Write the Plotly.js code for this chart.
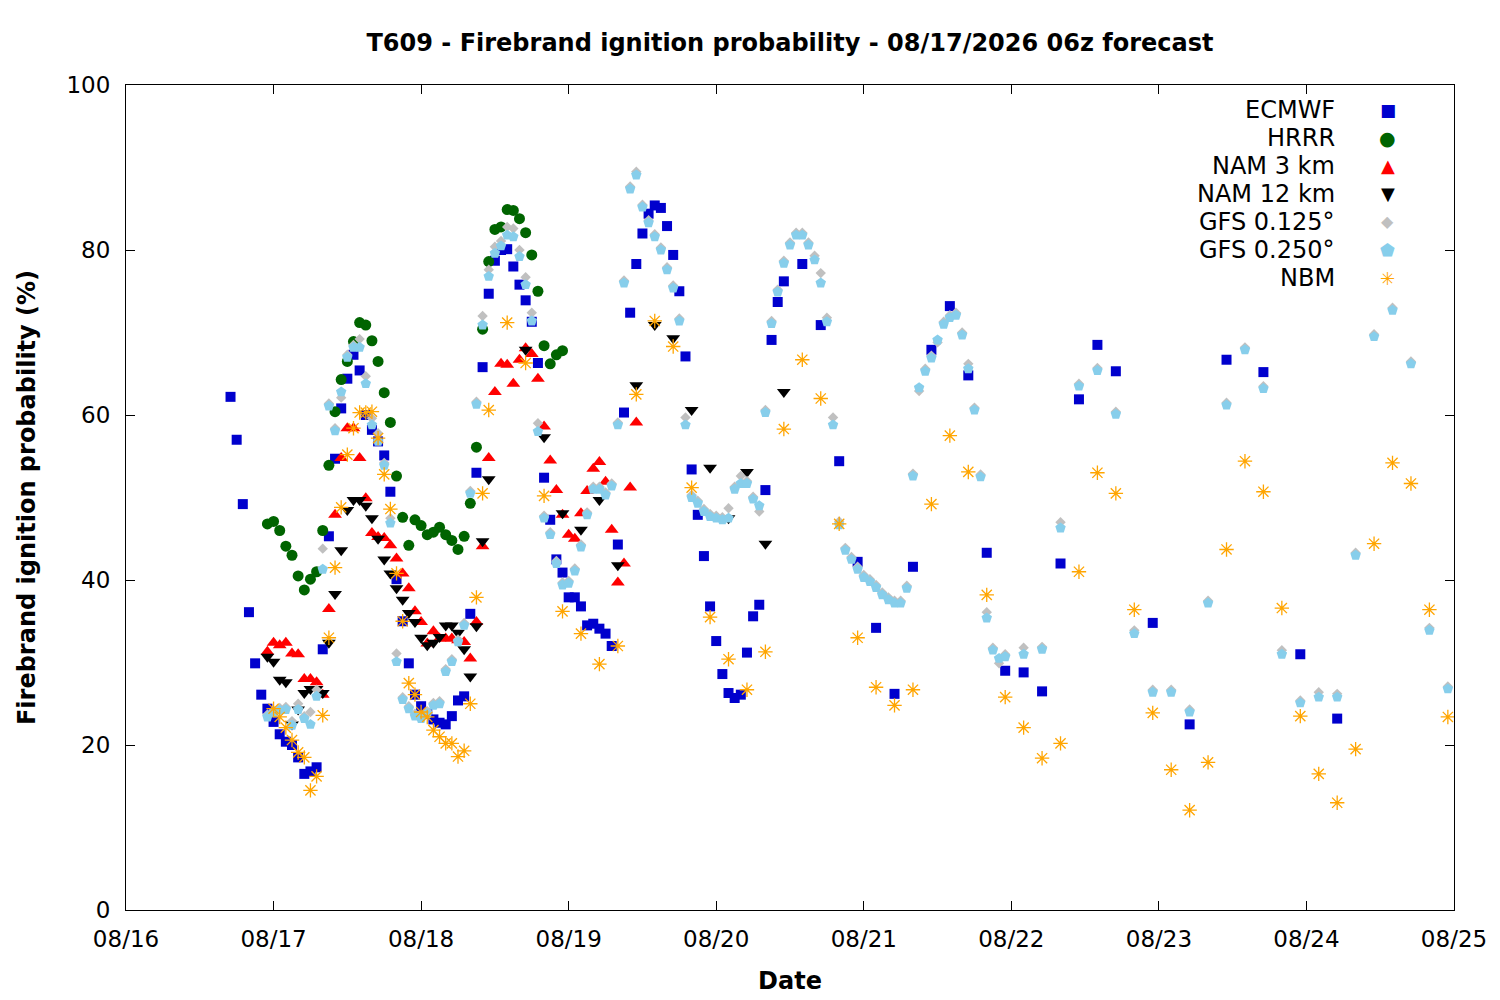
<!DOCTYPE html>
<html>
<head>
<meta charset="utf-8">
<title>T609 - Firebrand ignition probability</title>
<script src="https://cdn.plot.ly/plotly-3.0.1.min.js"></script>
<style>
    html, body { margin: 0; padding: 0; background: #ffffff; }
    #chart { width: 1500px; height: 1000px; }
</style>
</head>
<body>
<div id="chart"></div>
<script>
// Forecast hours are counted from 08/16 00:00
const baseDate = Date.UTC(2026, 7, 16, 0, 0);

const seriesNames = ['ECMWF', 'HRRR', 'NAM 3 km', 'NAM 12 km', 'GFS 0.125°', 'GFS 0.250°', 'NBM'];

const ecmwfHours = [17, 18, 19, 20, 21, 22, 23, 24, 25, 26, 27, 28, 29, 30, 31, 32, 33, 34, 35, 36,
    37, 38, 39, 40, 41, 42, 43, 44, 45, 46, 47, 48, 49, 50, 51, 52, 53, 54, 55, 56,
    57, 58, 59, 60, 61, 62, 63, 64, 65, 66, 67, 68, 69, 70, 71, 72, 73, 74, 75, 76,
    77, 78, 79, 80, 81, 82, 83, 84, 85, 86, 87, 88, 89, 90, 91, 92, 93, 94, 95, 96,
    97, 98, 99, 100, 101, 102, 103, 104, 105, 106, 107, 110, 113, 116, 119, 122, 125, 128, 131, 134,
    137, 140, 143, 146, 149, 152, 155, 158, 161, 167, 173, 179, 185, 191, 197];
const ecmwfValues = [62.2, 57.0, 49.2, 36.1, 29.9, 26.1, 24.4, 22.8, 21.3, 20.4, 20.0, 18.5, 16.5, 16.8, 17.3, 31.6, 45.3, 54.7, 60.8, 64.4,
    67.3, 65.4, 60.0, 58.2, 56.8, 55.1, 50.7, 40.1, 35.0, 29.9, 26.1, 24.7, 23.8, 23.1, 22.7, 22.5, 23.5, 25.4, 25.9, 35.9,
    53.0, 65.8, 74.7, 78.7, 80.0, 80.1, 78.0, 75.8, 73.9, 71.3, 66.3, 52.4, 47.3, 42.5, 40.9, 37.9, 37.9, 36.8, 34.5, 34.7,
    34.1, 33.5, 32.0, 44.3, 60.3, 72.4, 78.3, 82.0, 84.4, 85.4, 85.1, 82.9, 79.4, 75.0, 67.1, 53.4, 47.9, 42.9, 36.8, 32.6,
    28.6, 26.3, 25.7, 26.1, 31.2, 35.6, 37.0, 50.9, 69.1, 73.7, 76.2, 78.3, 70.9, 54.4, 42.2, 34.2, 26.2, 41.6, 67.9, 73.2,
    64.8, 43.3, 29.0, 28.8, 26.5, 42.0, 61.9, 68.5, 65.3, 34.8, 22.5, 66.7, 65.2, 31.0, 23.2];

const hrrrHours = [23, 24, 25, 26, 27, 28, 29, 30, 31, 32, 33, 34, 35, 36, 37, 38, 39, 40, 41, 42,
    43, 44, 45, 46, 47, 48, 49, 50, 51, 52, 53, 54, 55, 56, 57, 58, 59, 60, 61, 62,
    63, 64, 65, 66, 67, 68, 69, 70, 71];
const hrrrValues = [46.8, 47.1, 46.0, 44.1, 43.0, 40.5, 38.8, 40.1, 41.0, 46.0, 53.9, 60.4, 64.3, 66.5, 68.9, 71.2, 70.9, 69.0, 66.5, 62.7,
    59.1, 52.6, 47.6, 44.2, 47.3, 46.6, 45.5, 45.8, 46.4, 45.5, 44.8, 43.7, 45.3, 49.3, 56.1, 70.4, 78.6, 82.5, 82.8, 84.9,
    84.8, 83.8, 82.1, 79.4, 75.0, 68.4, 66.2, 67.3, 67.8];

const nam3Hours = [23, 24, 25, 26, 27, 28, 29, 30, 31, 32, 33, 34, 35, 36, 37, 38, 39, 40, 41, 42,
    43, 44, 45, 46, 47, 48, 49, 50, 51, 52, 53, 54, 55, 56, 57, 58, 59, 60, 61, 62,
    63, 64, 65, 66, 67, 68, 69, 70, 71, 72, 73, 74, 75, 76, 77, 78, 79, 80, 81, 82, 83];
const nam3Values = [31.3, 32.4, 32.1, 32.4, 31.1, 31.0, 28.0, 28.0, 27.6, 26.1, 36.5, 47.9, 54.8, 58.4, 58.4, 54.8, 49.9, 45.7, 45.2, 45.1,
    44.2, 42.6, 40.8, 39.0, 36.2, 34.9, 32.3, 33.8, 32.9, 32.9, 32.9, 32.7, 32.5, 30.5, 34.9, 44.1, 54.8, 62.8, 66.2, 66.1,
    63.8, 66.7, 68.1, 67.4, 64.4, 58.6, 54.5, 50.9, 47.9, 45.5, 45.0, 48.1, 50.8, 53.5, 54.3, 51.9, 46.1, 39.7, 42.0, 51.2, 59.1];

const nam12Hours = [23, 24, 25, 26, 27, 28, 29, 30, 31, 32, 33, 34, 35, 36, 37, 38, 39, 40, 41, 42,
    43, 44, 45, 46, 47, 48, 49, 50, 51, 52, 53, 54, 55, 56, 57, 58, 59, 65, 68, 71,
    74, 77, 80, 83, 86, 89, 92, 95, 98, 101, 104, 107];
const nam12Values = [30.7, 30.1, 27.9, 27.6, 22.5, 24.3, 26.3, 26.8, 26.8, 26.3, 32.4, 38.3, 43.6, 48.5, 49.7, 49.7, 49.0, 47.5, 45.0, 42.5,
    40.8, 39.0, 37.6, 36.0, 34.9, 33.0, 32.1, 32.4, 33.1, 34.5, 34.5, 33.6, 31.6, 28.3, 34.4, 44.7, 52.2, 67.9, 57.3, 48.1,
    46.1, 49.7, 41.8, 63.6, 70.9, 69.3, 60.6, 53.6, 47.5, 53.1, 44.4, 62.8];

const gfsHours = [23, 24, 25, 26, 27, 28, 29, 30, 31, 32, 33, 34, 35, 36, 37, 38, 39, 40, 41, 42,
    43, 44, 45, 46, 47, 48, 49, 50, 51, 52, 53, 54, 55, 56, 57, 58, 59, 60, 61, 62,
    63, 64, 65, 66, 67, 68, 69, 70, 71, 72, 73, 74, 75, 76, 77, 78, 79, 80, 81, 82,
    83, 84, 85, 86, 87, 88, 89, 90, 91, 92, 93, 94, 95, 96, 97, 98, 99, 100, 101, 102,
    103, 104, 105, 106, 107, 108, 109, 110, 111, 112, 113, 114, 115, 116, 117, 118, 119, 120, 121, 122,
    123, 124, 125, 126, 127, 128, 129, 130, 131, 132, 133, 134, 135, 136, 137, 138, 139, 140, 141, 142,
    143, 146, 149, 152, 155, 158, 161, 164, 167, 170, 173, 176, 179, 182, 185, 188, 191, 194, 197, 200,
    203, 206, 209, 212, 215];
const gfs0125Values = [23.7, 24.2, 24.5, 24.6, 22.9, 25.0, 23.5, 24.0, 26.7, 43.8, 61.4, 58.4, 62.1, 67.3, 68.5, 69.2, 64.7, 59.6, 57.8, 54.2,
    47.5, 31.1, 25.8, 24.7, 23.8, 23.5, 24.1, 25.1, 25.3, 29.2, 30.4, 32.8, 34.8, 50.8, 61.6, 72.0, 77.6, 80.4, 81.1, 82.8,
    82.6, 80.0, 76.7, 72.4, 59.0, 47.8, 45.8, 42.3, 39.7, 39.9, 41.4, 44.3, 48.2, 51.3, 51.3, 50.6, 51.7, 59.1, 76.3, 87.7,
    89.5, 85.5, 83.6, 81.9, 80.3, 77.9, 75.7, 71.7, 59.7, 50.3, 49.6, 48.6, 48.0, 47.8, 47.6, 48.7, 51.3, 52.6, 52.0, 50.1,
    48.3, 60.6, 71.4, 75.2, 78.7, 80.9, 82.1, 82.1, 80.9, 79.3, 77.2, 71.8, 59.7, 47.1, 43.9, 42.8, 41.6, 40.6, 40.1, 39.4,
    38.5, 37.9, 37.5, 37.5, 39.3, 52.9, 62.9, 65.6, 67.2, 68.8, 71.3, 72.1, 72.4, 70.0, 66.2, 60.9, 52.8, 36.1, 31.8, 29.9,
    31.0, 31.8, 31.9, 47.0, 63.8, 65.7, 60.4, 33.9, 26.7, 26.7, 24.3, 37.5, 61.5, 68.2, 63.5, 31.5, 25.4, 26.4, 26.2, 43.3,
    69.8, 73.0, 66.5, 34.2, 27.1];
const gfs0250Values = [23.4, 23.9, 24.2, 24.3, 22.4, 24.3, 23.2, 22.5, 25.9, 41.3, 61.1, 58.1, 62.8, 67.0, 68.2, 68.2, 63.8, 58.8, 56.8, 53.9,
    46.9, 30.1, 25.5, 24.4, 23.5, 23.2, 23.8, 24.8, 25.0, 28.9, 30.1, 32.5, 34.5, 50.5, 61.3, 70.9, 76.8, 79.6, 80.5, 81.8,
    81.6, 79.2, 75.8, 71.4, 58.0, 47.5, 45.5, 42.0, 39.4, 39.6, 41.1, 44.0, 47.9, 51.0, 51.0, 50.3, 51.4, 58.8, 76.0, 87.4,
    89.1, 85.2, 83.3, 81.6, 80.0, 77.6, 75.4, 71.4, 58.8, 50.0, 49.3, 48.3, 47.7, 47.5, 47.3, 47.5, 51.0, 51.7, 51.7, 49.8,
    49.0, 60.3, 71.1, 74.9, 78.4, 80.6, 81.8, 81.8, 80.6, 78.8, 76.0, 71.3, 58.8, 46.7, 43.6, 42.5, 41.3, 40.3, 39.8, 39.1,
    38.2, 37.6, 37.2, 37.2, 39.0, 52.6, 63.3, 65.3, 66.9, 69.1, 71.0, 71.8, 72.1, 69.7, 65.6, 60.6, 52.5, 35.4, 31.5, 30.5,
    30.7, 31.0, 31.6, 46.3, 63.5, 65.4, 60.1, 33.5, 26.4, 26.4, 24.0, 37.2, 61.2, 67.9, 63.2, 31.0, 25.1, 25.8, 25.8, 43.0,
    69.5, 72.7, 66.2, 33.9, 26.8];

const nbmHours = [24, 25, 26, 27, 28, 29, 30, 31, 32, 33, 34, 35, 36, 37, 38, 39, 40, 41, 42, 43,
    44, 45, 46, 47, 48, 49, 50, 51, 52, 53, 54, 55, 56, 57, 58, 59, 62, 65, 68, 71,
    74, 77, 80, 83, 86, 89, 92, 95, 98, 101, 104, 107, 110, 113, 116, 119, 122, 125, 128, 131,
    134, 137, 140, 143, 146, 149, 152, 155, 158, 161, 164, 167, 170, 173, 176, 179, 182, 185, 188, 191,
    194, 197, 200, 203, 206, 209, 212, 215];
const nbmValues = [24.4, 23.4, 22.1, 20.6, 19.1, 18.5, 14.5, 16.2, 23.6, 33.0, 41.5, 48.8, 55.2, 58.4, 60.3, 60.3, 60.4, 57.2, 52.8, 48.6,
    40.8, 35.0, 27.5, 26.1, 24.0, 23.4, 21.8, 21.0, 20.2, 20.2, 18.6, 19.3, 25.0, 37.9, 50.5, 60.6, 71.2, 66.3, 50.2, 36.2,
    33.5, 29.8, 32.0, 62.5, 71.4, 68.3, 51.2, 35.5, 30.4, 26.7, 31.3, 58.3, 66.7, 62.0, 46.8, 33.0, 27.0, 24.8, 26.7, 49.2,
    57.5, 53.1, 38.2, 25.8, 22.1, 18.4, 20.2, 41.0, 53.0, 50.5, 36.4, 23.9, 17.0, 12.1, 17.9, 43.7, 54.4, 50.7, 36.6, 23.5,
    16.5, 13.0, 19.5, 44.4, 54.2, 51.7, 36.4, 23.4];

const FONT = "'DejaVu Sans', 'Liberation Sans', sans-serif";

// gnuplot-like point styles, drawn in the same order as the legend
const markerStyles = [
    { symbol: 'square', size: 10, color: '#0000cd', key: '\u25A0', keySize: 17 },
    { symbol: 'circle', size: 11, color: '#006400', key: '\u25CF', keySize: 19 },
    { symbol: 'triangle-up', size: 12, color: '#ff0000', key: '\u25B2', keySize: 18 },
    { symbol: 'triangle-down', size: 12, color: '#000000', key: '\u25BC', keySize: 18 },
    { symbol: 'diamond', size: 8, color: '#c0c0c0', key: '\u25C6', keySize: 16 },
    { symbol: 'pentagon', size: 11, color: '#87ceeb', key: '\u2B1F', keySize: 17 },
    { symbol: 'asterisk-open', size: 12, color: '#ffa500', key: '\u2733', keySize: 18 }
];

function toDate(h) {
    const d = new Date(baseDate + h * 3600 * 1000);
    const pad = n => String(n).padStart(2, '0');
    return `${d.getUTCFullYear()}-${pad(d.getUTCMonth() + 1)}-${pad(d.getUTCDate())} ${pad(d.getUTCHours())}:00`;
}

function makeTrace(i, hours, values) {
    const st = markerStyles[i];
    const isOpen = st.symbol.endsWith('-open');
    return {
        type: 'scatter',
        mode: 'markers',
        name: seriesNames[i],
        x: hours.map(toDate),
        y: values,
        showlegend: false,
        marker: {
            symbol: st.symbol,
            size: st.size,
            color: st.color,
            line: isOpen ? { color: st.color, width: 1.3 } : { width: 0 }
        },
        hoverinfo: 'x+y+name'
    };
}

const traces = [
    makeTrace(0, ecmwfHours, ecmwfValues),
    makeTrace(1, hrrrHours, hrrrValues),
    makeTrace(2, nam3Hours, nam3Values),
    makeTrace(3, nam12Hours, nam12Values),
    makeTrace(4, gfsHours, gfs0125Values),
    makeTrace(5, gfsHours, gfs0250Values),
    makeTrace(6, nbmHours, nbmValues)
];

// Legend drawn gnuplot style: right aligned text, key symbol on its right
const legendTop = 0.9697;
const legendStep = 0.03394;
const annotations = [];
seriesNames.forEach((name, i) => {
    const yy = legendTop - i * legendStep;
    annotations.push({
        xref: 'paper', yref: 'paper', x: 0.912, y: yy,
        xanchor: 'right', yanchor: 'middle', showarrow: false,
        text: name, font: { family: FONT, size: 24, color: '#000000' }
    });
    annotations.push({
        xref: 'paper', yref: 'paper', x: 0.950, y: yy,
        xanchor: 'center', yanchor: 'middle', showarrow: false,
        text: markerStyles[i].key,
        font: { family: FONT, size: markerStyles[i].keySize, color: markerStyles[i].color }
    });
});

const axisCommon = {
    showline: true,
    linecolor: '#000000',
    linewidth: 1,
    mirror: 'ticks',
    ticks: 'inside',
    ticklen: 9,
    tickwidth: 1,
    tickcolor: '#000000',
    showgrid: false,
    zeroline: false,
    tickfont: { family: FONT, size: 23, color: '#000000' }
};

const layout = {
    width: 1500,
    height: 1000,
    paper_bgcolor: '#ffffff',
    plot_bgcolor: '#ffffff',
    margin: { l: 126, r: 46, t: 85, b: 90 },
    font: { family: FONT, color: '#000000' },
    title: {
        text: '<b>T609 - Firebrand ignition probability - 08/17/2026 06z forecast</b>',
        font: { family: FONT, size: 24, color: '#000000' },
        xref: 'paper', x: 0.5, xanchor: 'center',
        yref: 'container', y: 0.957, yanchor: 'middle'
    },
    xaxis: {
        ...axisCommon,
        type: 'date',
        range: [toDate(0), toDate(216)],
        dtick: 86400000,
        tick0: toDate(0),
        tickformat: '%m/%d',
        ticklabelstandoff: 8,
        title: { text: '<b>Date</b>', font: { family: FONT, size: 24 }, standoff: 21 }
    },
    yaxis: {
        ...axisCommon,
        range: [0, 100],
        dtick: 20,
        ticklabelstandoff: 10,
        title: { text: '<b>Firebrand ignition probability (%)</b>', font: { family: FONT, size: 24 }, standoff: 24 }
    },
    annotations: annotations,
    showlegend: false
};

Plotly.newPlot('chart', traces, layout, { displayModeBar: false, responsive: false });
</script>
</body>
</html>
